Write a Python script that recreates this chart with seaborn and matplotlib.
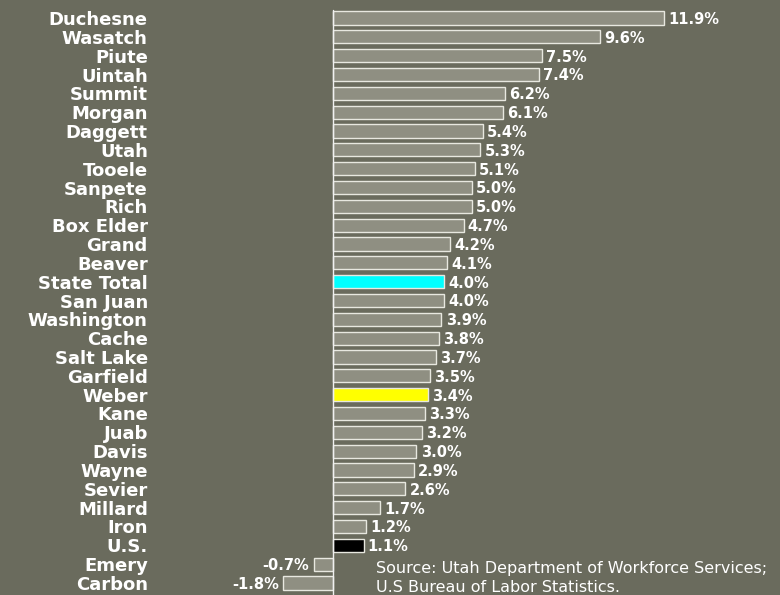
import numpy as np
import pandas as pd
import matplotlib
matplotlib.use("Agg")
import matplotlib.pyplot as plt
import seaborn as sns

# data
counties = ["Duchesne", "Wasatch", "Piute", "Uintah", "Summit", "Morgan", "Daggett",
            "Utah", "Tooele", "Sanpete", "Rich", "Box Elder", "Grand", "Beaver",
            "State Total", "San Juan", "Washington", "Cache", "Salt Lake", "Garfield",
            "Weber", "Kane", "Juab", "Davis", "Wayne", "Sevier", "Millard", "Iron",
            "U.S.", "Emery", "Carbon"]
growth = [11.9, 9.6, 7.5, 7.4, 6.2, 6.1, 5.4, 5.3, 5.1, 5.0, 5.0, 4.7, 4.2, 4.1,
          4.0, 4.0, 3.9, 3.8, 3.7, 3.5, 3.4, 3.3, 3.2, 3.0, 2.9, 2.6, 1.7, 1.2,
          1.1, -0.7, -1.8]
highlight = {"State Total": "#00FFFF", "Weber": "#FFFF00", "U.S.": "#000000"}

bg = "#6A6B5D"
bar_col = "#8F8F82"

df = pd.DataFrame({"county": counties, "growth": growth})
palette = {c: highlight.get(c, bar_col) for c in counties}

sns.set_style("white")
plt.rcParams['font.family'] = ['DejaVu Sans']

fig = plt.figure(figsize=(7.8, 5.95), dpi=100, facecolor=bg)
ax = fig.add_axes([152 / 780, 0, 1 - 152 / 780, 1])
ax.set_facecolor(bg)

sns.barplot(data=df, y="county", x="growth", hue="county", palette=palette,
            legend=False, orient="h", width=0.7, saturation=1,
            edgecolor="#E8E8E0", linewidth=1, ax=ax)

# scale: zero at x=333px, ~27.8 px per percent
ax.set_xlim(-(333 - 152) / 27.8, (780 - 333) / 27.8)
ax.set_ylim(30 + 12 / 18.83, -18 / 18.83)

ax.axvline(0, ymin=0, ymax=1 - 10 / 595, color="#F0F0F0", lw=1)

for i, v in enumerate(growth):
    if v >= 0:
        ax.annotate(f"{v:.1f}%", (v, i), xytext=(3, -1), textcoords="offset points",
                    ha="left", va="center", color="white", fontsize=10.5, fontweight="bold")
    else:
        ax.annotate(f"{v:.1f}%", (v, i), xytext=(-3, -1), textcoords="offset points",
                    ha="right", va="center", color="white", fontsize=10.5, fontweight="bold")

ax.set_xlabel("")
ax.set_ylabel("")
ax.set_xticks([])
ax.tick_params(axis="y", length=0, pad=3)
for lab in ax.get_yticklabels():
    lab.set_color("white")
    lab.set_fontweight("bold")
    lab.set_fontsize(13)
for s in ax.spines.values():
    s.set_visible(False)

fig.text(376 / 780, 1 - 578 / 595,
         "Source: Utah Department of Workforce Services;\nU.S Bureau of Labor Statistics.",
         color="white", fontsize=11.5, ha="left", va="center", linespacing=1.3)

fig.savefig("out.png", dpi=100, facecolor=bg)
